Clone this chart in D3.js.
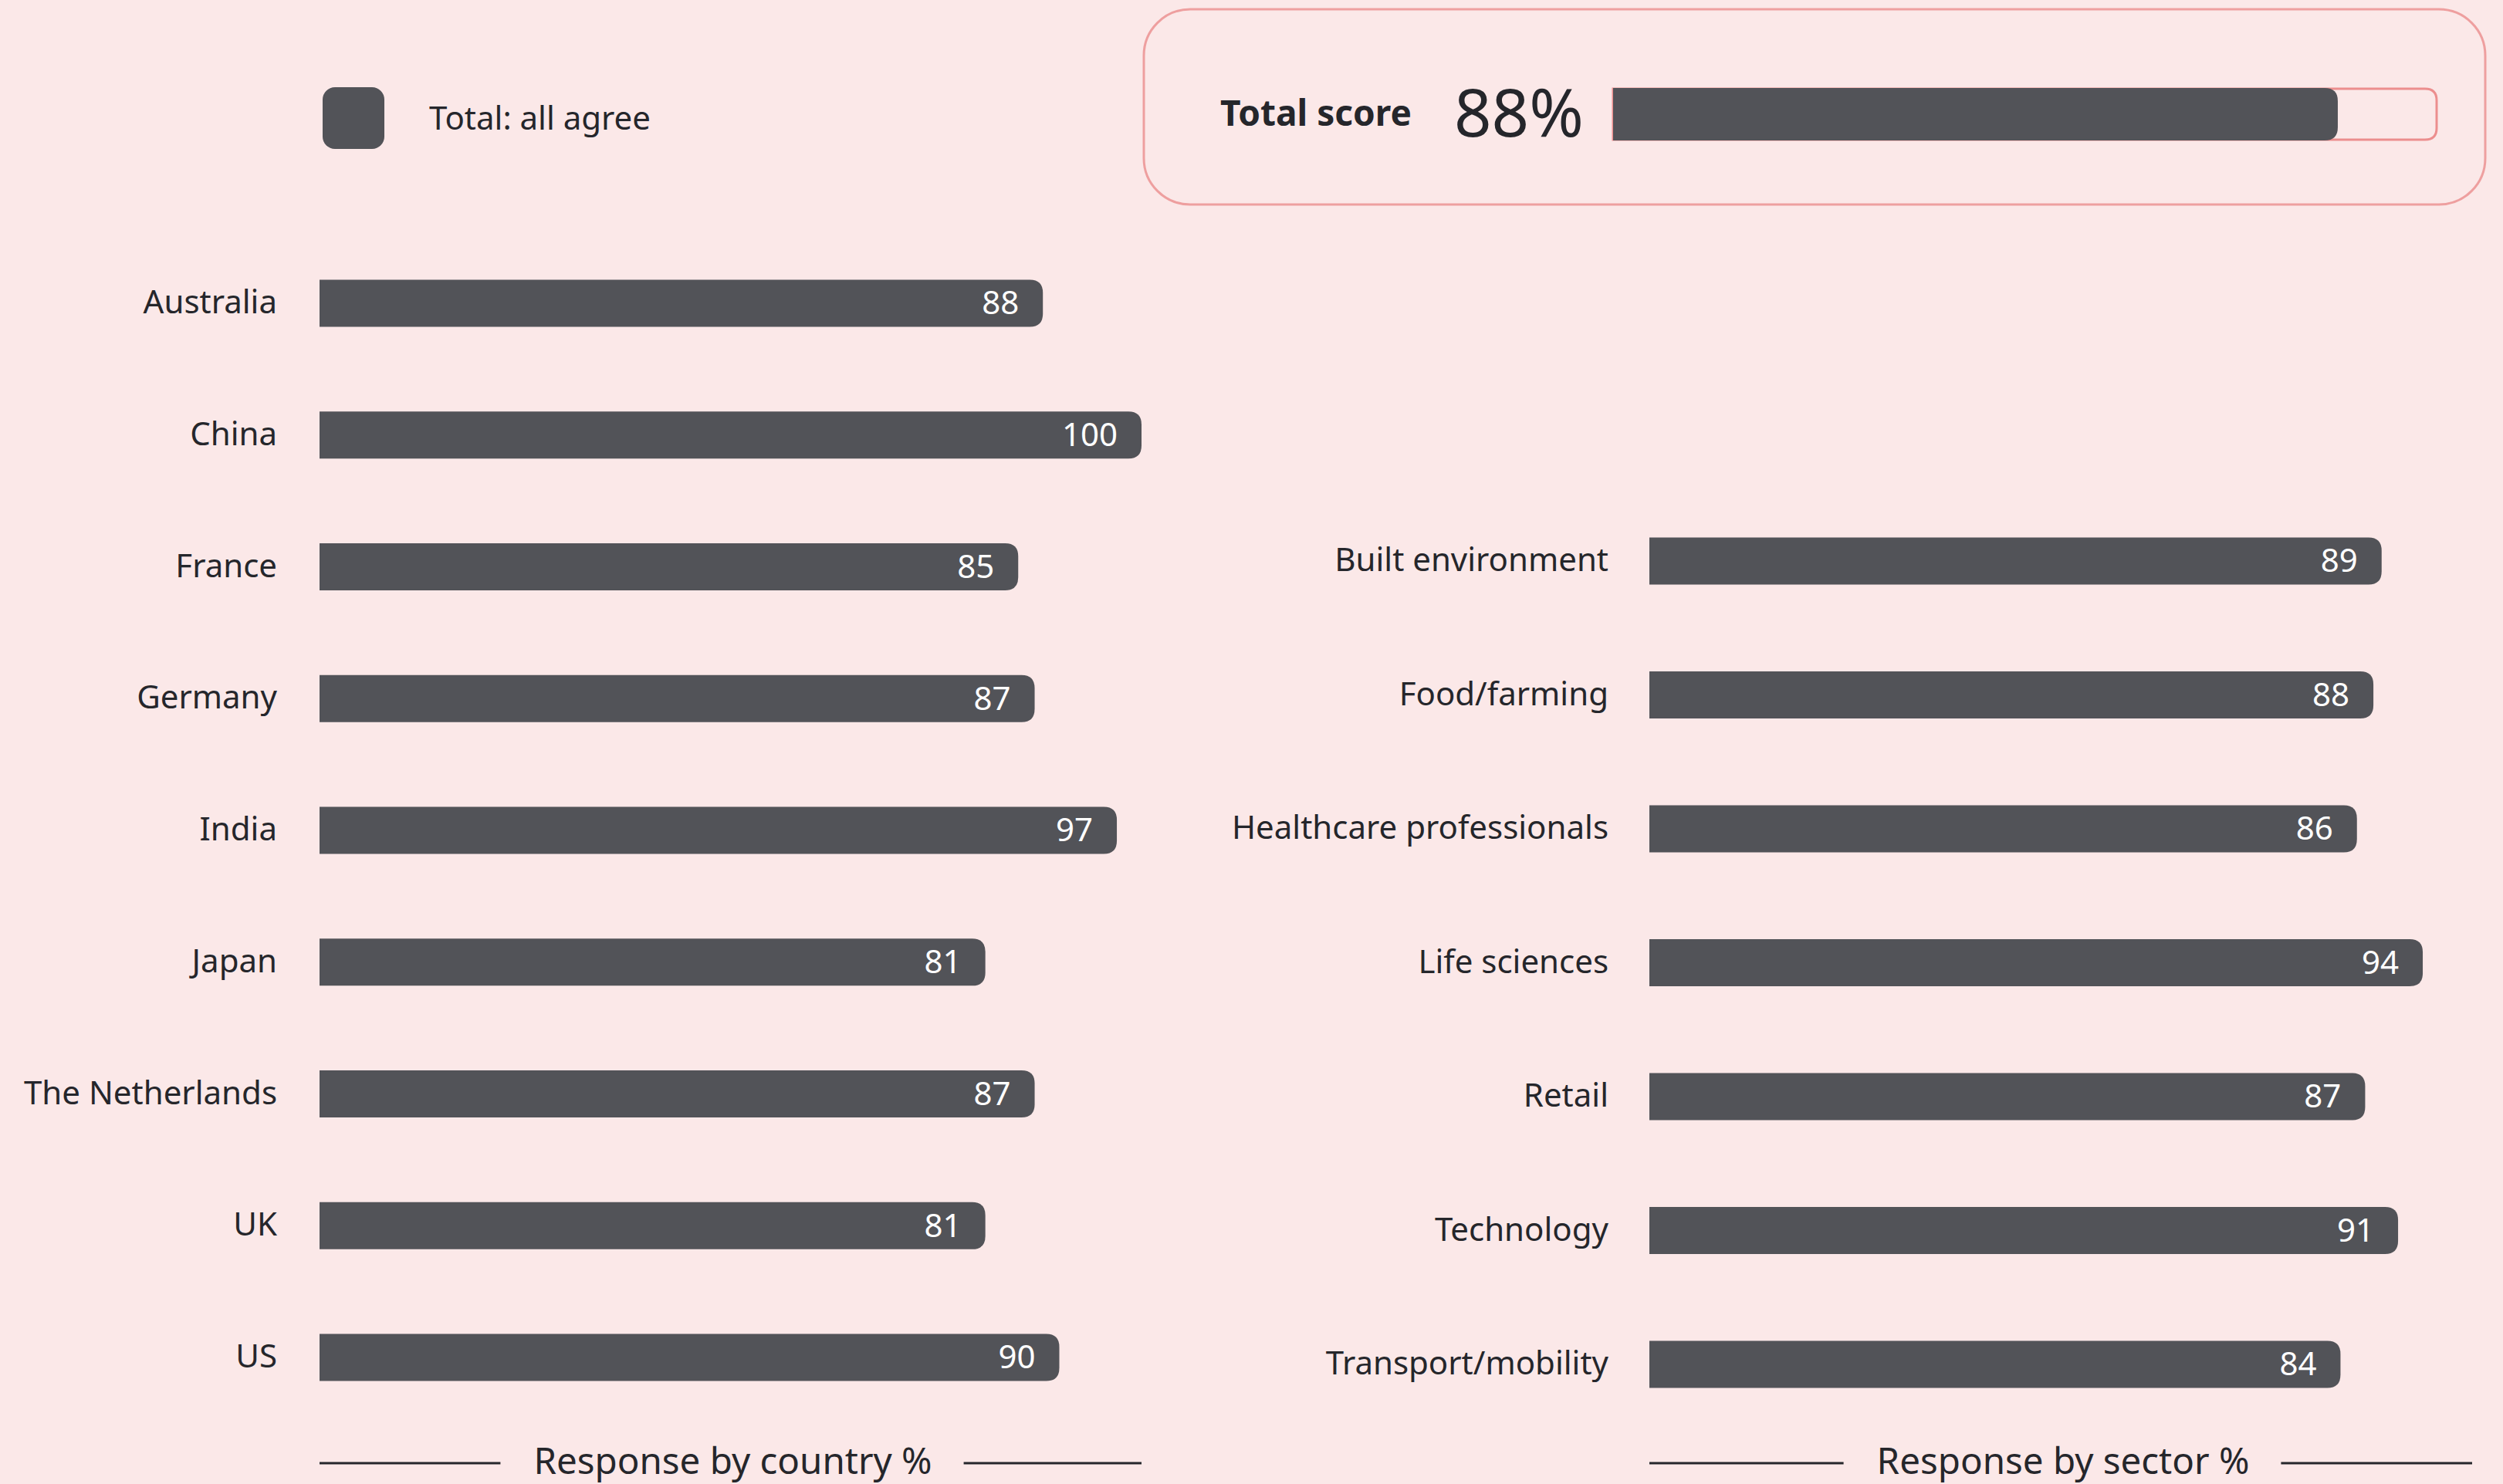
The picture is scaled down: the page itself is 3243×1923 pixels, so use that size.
<!DOCTYPE html>
<html>
<head>
<meta charset="utf-8">
<script src="https://cdn.jsdelivr.net/npm/d3@7"></script>
<style>
  html, body { margin: 0; padding: 0; background: #fbe8e8; }
  svg { display: block; font-family: "Noto Sans", "Open Sans", sans-serif; }
</style>
</head>
<body>
<div id="chart"></div>
<script>
// data
let countries = ["Australia", "China", "France", "Germany", "India", "Japan", "The Netherlands", "UK", "US"];
let countryValues = [88, 100, 85, 87, 97, 81, 87, 81, 90];
let sectors = ["Built environment", "Food/farming", "Healthcare professionals", "Life sciences", "Retail", "Technology", "Transport/mobility"];
let sectorValues = [89, 88, 86, 94, 87, 91, 84];
let totalScore = 88;
let legendLabel = "Total: all agree";
let countryTitle = "Response by country %";
let sectorTitle = "Response by sector %";

let svgWidth = 3243;
let svgHeight = 1923;
let barColor = "#525358";
let textColor = "#25262b";
let barHeight = 61;
let radius = 17;

let svg = d3.select("#chart")
  .append("svg")
  .attr("width", svgWidth)
  .attr("height", svgHeight);

svg.append("rect")
  .attr("width", svgWidth)
  .attr("height", svgHeight)
  .attr("fill", "#fbe8e8");

// bar with square left end and rounded right end
function barPath(x0, x1, yc, h, r) {
  let y0 = yc - h / 2, y1 = yc + h / 2;
  r = Math.min(r, (x1 - x0), h / 2);
  return `M${x0},${y0} H${x1 - r} Q${x1},${y0} ${x1},${y0 + r} V${y1 - r} Q${x1},${y1} ${x1 - r},${y1} H${x0} Z`;
}

//Legend
svg.append("rect")
  .attr("x", 418).attr("y", 113)
  .attr("width", 80).attr("height", 80)
  .attr("rx", 16)
  .attr("fill", barColor);
svg.append("text")
  .attr("x", 556).attr("y", 168)
  .style("font-size", "42px")
  .attr("fill", textColor)
  .text(legendLabel);

//Total score box
let totalScale = d3.scaleLinear().domain([0, 100]).range([2090, 3157]);
svg.append("rect")
  .attr("x", 1482).attr("y", 12)
  .attr("width", 1738).attr("height", 253)
  .attr("rx", 60)
  .attr("fill", "none")
  .attr("stroke", "#ee9f9f")
  .attr("stroke-width", 3);
svg.append("text")
  .attr("x", 1581).attr("y", 163)
  .style("font-size", "46px")
  .style("font-weight", "bold")
  .attr("fill", textColor)
  .text("Total score");
svg.append("text")
  .attr("x", 1884).attr("y", 177)
  .style("font-size", "85px")
  .attr("fill", textColor)
  .text(totalScore + "%");
svg.append("path")
  .attr("d", barPath(totalScale(0), totalScale(100), 148, 66, 15))
  .attr("fill", "none")
  .attr("stroke", "#ec8e8e")
  .attr("stroke-width", 3);
svg.append("path")
  .attr("d", barPath(totalScale(0), totalScale(totalScore), 148, 68, 17))
  .attr("fill", barColor);

//Draw one panel of bars
function drawPanel(names, values, xScale, yScale, labelRight, title) {
  let g = svg.append("g");

  g.selectAll(".bar")
    .data(names)
    .enter()
    .append("path")
    .attr("class", "bar")
    .attr("d", (d, i) => barPath(xScale(0), xScale(values[i]), yScale(d), barHeight, radius))
    .attr("fill", barColor);

  g.selectAll(".value")
    .data(names)
    .enter()
    .append("text")
    .attr("class", "value")
    .attr("x", (d, i) => xScale(values[i]) - 31)
    .attr("y", d => yScale(d))
    .attr("dy", "0.34em")
    .style("font-size", "42px")
    .style("text-anchor", "end")
    .attr("fill", "#ffffff")
    .text((d, i) => values[i]);

  g.selectAll(".label")
    .data(names)
    .enter()
    .append("text")
    .attr("class", "label")
    .attr("x", labelRight)
    .attr("y", d => yScale(d))
    .attr("dy", "0.31em")
    .style("font-size", "42px")
    .style("text-anchor", "end")
    .attr("fill", textColor)
    .text(d => d);

  //Footer title with lines on each side
  let x0 = xScale(0), x1 = xScale(100), xm = (x0 + x1) / 2;
  let t = g.append("text")
    .attr("x", xm + 3).attr("y", 1910)
    .style("font-size", "47.5px")
    .style("text-anchor", "middle")
    .attr("fill", textColor)
    .text(title);
  let half = t.node().getComputedTextLength() / 2;
  g.append("line")
    .attr("x1", x0).attr("x2", xm - half - 40)
    .attr("y1", 1896).attr("y2", 1896)
    .attr("stroke", textColor).attr("stroke-width", 3);
  g.append("line")
    .attr("x1", xm + half + 44).attr("x2", x1)
    .attr("y1", 1896).attr("y2", 1896)
    .attr("stroke", textColor).attr("stroke-width", 3);
}

let xCountry = d3.scaleLinear().domain([0, 100]).range([414, 1479]);
let yCountry = d3.scalePoint().domain(countries).range([393, 1759]);
drawPanel(countries, countryValues, xCountry, yCountry, 359, countryTitle);

let xSector = d3.scaleLinear().domain([0, 100]).range([2137, 3203]);
let ySector = d3.scalePoint().domain(sectors).range([727, 1768]);
drawPanel(sectors, sectorValues, xSector, ySector, 2084, sectorTitle);
</script>
</body>
</html>
